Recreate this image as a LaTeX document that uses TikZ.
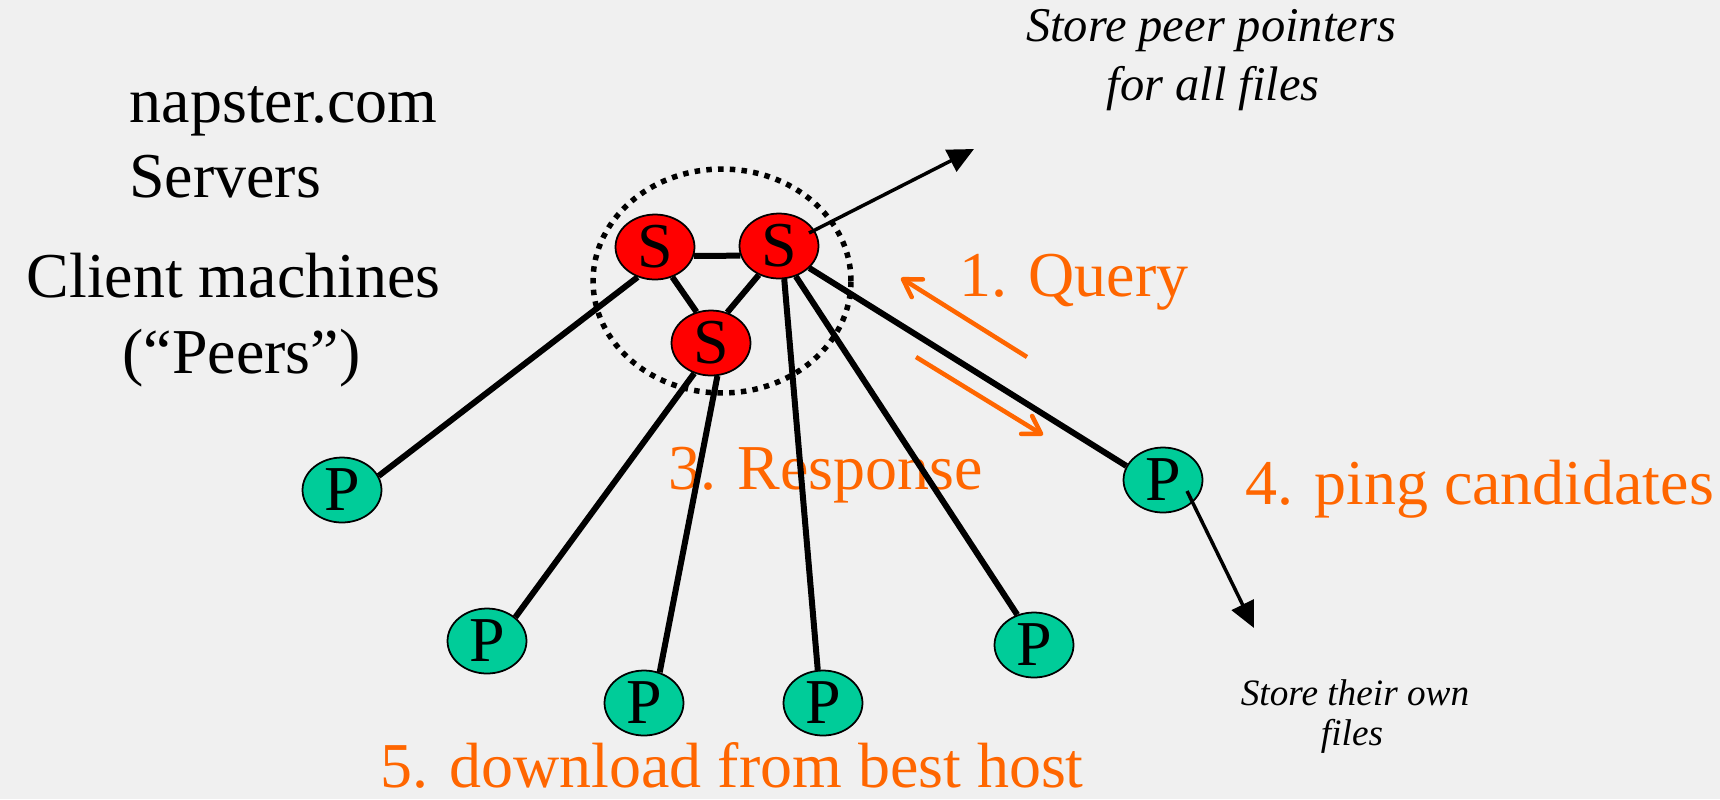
\documentclass[tikz,border=0pt]{standalone}
\usepackage{fontspec}
\setmainfont{Liberation Serif}
\usepackage{tikz}
\usetikzlibrary{shapes.geometric,arrows.meta,positioning}
\definecolor{napred}{RGB}{255,0,0}
\definecolor{napgreen}{RGB}{0,204,153}
\definecolor{naporange}{RGB}{255,102,0}
\definecolor{slidegray}{RGB}{240,240,240}
\tikzstyle{server}=[draw,fill=napred,ellipse,minimum width=1.58cm,minimum height=1.3cm,inner sep=0pt,line width=1pt,font=\fontsize{36.4}{40}\selectfont]
\tikzstyle{peer}=[server,fill=napgreen]
\tikzstyle{bigtext}=[inner sep=0pt,anchor=base,font=\fontsize{36.4}{40}\selectfont]
\tikzstyle{steptext}=[bigtext,text=naporange]
\tikzstyle{note}=[inner sep=0pt,anchor=base,font=\fontsize{27.6}{30}\selectfont\itshape]
\tikzstyle{smallnote}=[note,font=\fontsize{21.2}{24}\selectfont\itshape]

\begin{document}
\begin{tikzpicture}[x=0.02cm,y=-0.02cm,
  link/.style={line width=0.12cm},
  pointer/.style={line width=0.07cm,-{Triangle[length=0.52cm,width=0.48cm]}},
  msgarrow/.style={draw=naporange,line width=0.09cm,-{Straight Barb[length=0.34cm,width=0.42cm,round]}}]
\fill[slidegray] (0,0) rectangle (1720,799);
\useasboundingbox (0,0) rectangle (1720,799);

\draw[line width=0.11cm,dash pattern=on 0.11cm off 0.125cm] (722,281) ellipse [x radius=2.58cm,y radius=2.24cm];

\node[bigtext] (site) at (283.5,122) {napster.com};
\node[bigtext] (srvlabel) at (225,197) {Servers};
\node[bigtext] (clients) at (233.5,297) {Client machines};
\node[bigtext] (peerlabel) at (241.5,373) {(“Peers”)};
\node[steptext] (query) at (1074,296) {1. Query};
\node[steptext] (response) at (825.5,489) {3. Response};
\node[steptext] (ping) at (1479.5,504) {4. ping candidates};
\node[steptext] (download) at (732,787) {5. download from best host};
\node[note] (ptrA) at (1211,41) {Store peer pointers};
\node[note] (ptrB) at (1213,100) {for all files};
\node[smallnote] (ownA) at (1355,705) {Store their own};
\node[smallnote] (ownB) at (1352,745) {files};

\node [server] (S1) at (655,247) {S};
\node [server] (S2) at (779,246) {S};
\node [server] (S3) at (711,343) {S};
\node [peer] (P1) at (342,490) {P};
\node [peer] (P2) at (487,641) {P};
\node [peer] (P3) at (644,703) {P};
\node [peer] (P4) at (823,703) {P};
\node [peer] (P5) at (1034,645) {P};
\node [peer] (P6) at (1163,480) {P};

\draw[link] (S1.-13) -- (S2.-166);
\draw[link] (S1.-60) -- (S3.115);
\draw[link] (S2.-125) -- (S3.62);
\draw[link] (S1.-120) -- (P1.21);
\draw[link] (S3.-119) -- (P2.40);
\draw[link] (S3.-79) -- (P3.63);
\draw[link] (S2.-81) -- (P4.99);
\draw[link] (S2.-61) -- (P5.119);
\draw[link] (S2.-36) -- (P6.159);

\coordinate (srvfiles) at (974,149);
\coordinate (peerfiles) at (1254,628);
\draw[pointer] ([shift={(30,-13)}]S2.center) -- (srvfiles);
\draw[pointer] ([shift={(24,11)}]P6.center) -- (peerfiles);

\coordinate (qstart) at (1027,357);
\coordinate (qend) at (901,278);
\coordinate (rstart) at (916,357);
\coordinate (rend) at (1043,435);
\draw[msgarrow] (qstart) -- (qend);
\draw[msgarrow] (rstart) -- (rend);
\end{tikzpicture}
\end{document}
